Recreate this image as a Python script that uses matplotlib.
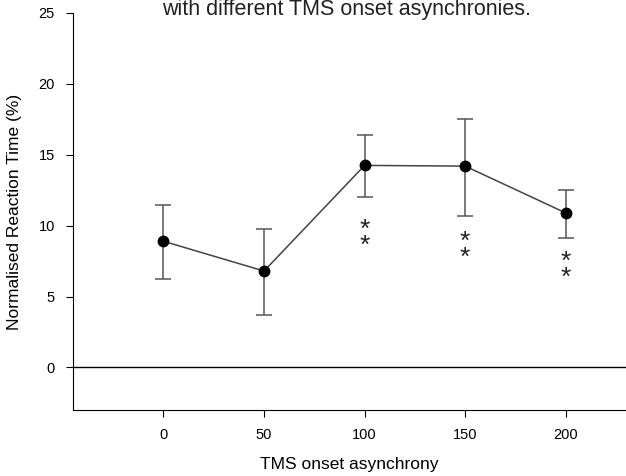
import numpy as np
import matplotlib
matplotlib.use("Agg")
from matplotlib import pyplot as plt

plt.rcParams['font.family'] = ['Liberation Sans', 'DejaVu Sans']

# data
soa = [0, 50, 100, 150, 200]
rt_mean = [8.9, 6.8, 14.25, 14.2, 10.9]
err_upper = [11.45, 9.77, 16.4, 17.55, 12.55]
err_lower = [6.24, 3.73, 12.02, 10.7, 9.13]
# significance stars (two stacked) under the marked points
star_x = [100, 150, 200]
star_y = [9.52, 8.7, 7.27]

rt_mean = np.array(rt_mean)
yerr = [rt_mean - np.array(err_lower), np.array(err_upper) - rt_mean]

fig = plt.figure(figsize=(6.26, 4.76), dpi=100)
ax = fig.add_axes([0.1166, 0.1387, 0.8834, 0.834])

ax.errorbar(soa, rt_mean, yerr=yerr, fmt="none", ecolor="#555555",
            elinewidth=1.1, capsize=6, capthick=1.1, zorder=2)
ax.plot(soa, rt_mean, color="#444444", lw=1.1, zorder=3)
ax.plot(soa, rt_mean, "o", color="black", ms=7.5, zorder=4)

ax.axhline(0, color="black", lw=1)

# asterisk glyph sits high in its line box, so pull the block down a bit
for x, y in zip(star_x, star_y):
    ax.annotate("*\n*", (x, y), xytext=(0, -4), textcoords="offset points",
                ha="center", va="center", fontsize=19, linespacing=0.55,
                color="#222222")

ax.set_xlim(-45, 230)
ax.set_ylim(-3, 25)
ax.set_xticks(soa)
ax.set_yticks([0, 5, 10, 15, 20, 25])
ax.spines["top"].set_visible(False)
ax.spines["right"].set_visible(False)
ax.tick_params(direction="out", length=5, labelsize=10.5, pad=8)

ax.set_xlabel("TMS onset asynchrony", fontsize=12.5, labelpad=11)
ax.set_ylabel("Normalised Reaction Time (%)", fontsize=12.5, labelpad=12)

fig.text(0.553, 1 - 9 / 476, "with different TMS onset asynchronies.",
         ha="center", va="center", fontsize=15.5, color="#222222")

fig.savefig("out.png", dpi=100)
